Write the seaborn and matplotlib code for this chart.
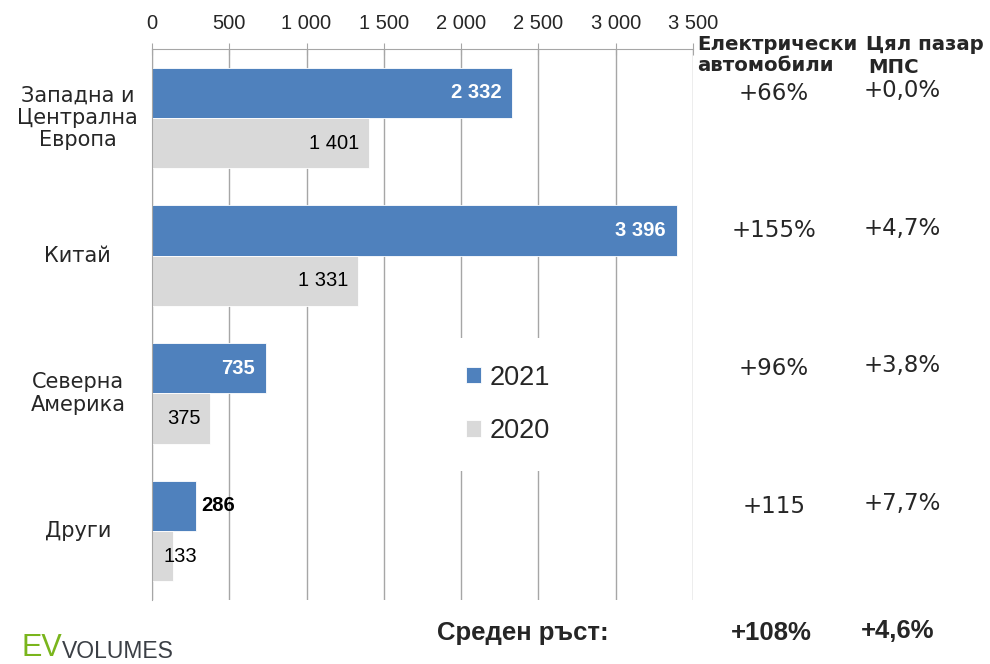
import pandas as pd
import matplotlib.pyplot as plt
import matplotlib.transforms as mtrans
from matplotlib.ticker import FuncFormatter
import seaborn as sns

sns.set_style("white")
plt.rcParams["font.family"] = ["DejaVu Sans"]

regions = ["Западна и\nЦентрална\nЕвропа", "Китай", "Северна\nАмерика", "Други"]
ev_2021 = [2332, 3396, 735, 286]
ev_2020 = [1401, 1331, 375, 133]
years = ["2021", "2020"]
ev_growth = ["+66%", "+155%", "+96%", "+115"]
market_growth = ["+0,0%", "+4,7%", "+3,8%", "+7,7%"]
avg_ev = "+108%"
avg_market = "+4,6%"

blue = "#4F81BD"
gray = "#D9D9D9"
line_gray = "#A6A6A6"
arial = "Liberation Sans"

df = pd.DataFrame({
    "region": regions * 2,
    "value": ev_2021 + ev_2020,
    "year": [years[0]] * 4 + [years[1]] * 4,
})

fig = plt.figure(figsize=(9.9, 6.64), dpi=100)
ax = fig.add_axes([0.1535, 0.0964, 0.5465, 0.8298])

sns.barplot(data=df, y="region", x="value", hue="year", hue_order=years,
            orient="h", palette=[blue, gray], saturation=1, width=0.73,
            edgecolor="white", linewidth=0.6, ax=ax)

ax.set_xlim(0, 3500)
ax.set_ylim(3.5, -0.5)
ax.set_xlabel("")
ax.set_ylabel("")
ax.xaxis.tick_top()
ax.set_xticks(range(0, 3501, 500))
ax.xaxis.set_major_formatter(FuncFormatter(lambda v, p: f"{int(v):,}".replace(",", " ")))
ax.tick_params(axis="x", direction="inout", length=9, color=line_gray, pad=7,
               labelsize=14.5)
for lab in ax.get_xticklabels():
    lab.set_fontfamily(arial)
ax.grid(axis="x", color=line_gray, lw=1)
ax.set_axisbelow(True)
for s in ["right", "bottom"]:
    ax.spines[s].set_visible(False)
for s in ["top", "left"]:
    ax.spines[s].set_color(line_gray)

ax.set_yticks(range(len(regions)))
ax.set_yticklabels([])
ax.tick_params(axis="y", which="major", length=0)
ax.set_yticks([i - 0.5 for i in range(len(regions) + 1)], minor=True)
ax.tick_params(axis="y", which="minor", length=6, color=line_gray, direction="out")

# category labels
ytrans = mtrans.blended_transform_factory(ax.transAxes, ax.transData)
for i, r in enumerate(regions):
    ax.text(-0.137, i, r, transform=ytrans, ha="center", va="center",
            multialignment="center", fontsize=15, linespacing=1.15)

# bar labels
for cont, vals, yr in zip(ax.containers, [ev_2021, ev_2020], years):
    for bar, v in zip(cont, vals):
        yc = bar.get_y() + bar.get_height() / 2
        txt = f"{v:,}".replace(",", " ")
        if yr == "2021":
            if v > 500:
                ax.annotate(txt, (v, yc), xytext=(-8, 0), textcoords="offset points",
                            ha="right", va="center", color="white", fontweight="bold",
                            fontsize=14.5, family=arial)
            else:
                ax.annotate(txt, (v, yc), xytext=(4, 0), textcoords="offset points",
                            ha="left", va="center", color="black", fontweight="bold",
                            fontsize=14.5, family=arial)
        else:
            if v > 200:
                ax.annotate(txt, (v, yc), xytext=(-7, 0), textcoords="offset points",
                            ha="right", va="center", color="black",
                            fontsize=14.5, family=arial)
            else:
                ax.annotate(txt, (0, yc), xytext=(8, 0), textcoords="offset points",
                            ha="left", va="center", color="black",
                            fontsize=14.5, family=arial)

# legend
handles, labels = ax.get_legend_handles_labels()
leg = ax.legend(handles, labels, loc="center", bbox_to_anchor=(0.658, 0.355),
                frameon=True, facecolor="white", edgecolor="none", framealpha=1,
                fancybox=False, handlelength=0.55, handleheight=0.55,
                handletextpad=0.3, labelspacing=1.0, borderpad=1.0,
                prop={"family": arial, "size": 19.5})

# right-hand growth columns
ftrans = mtrans.blended_transform_factory(fig.transFigure, ax.transData)
fig.text(697 / 990, 1 - 35 / 664, "Електрически\nавтомобили", ha="left", va="top",
         fontsize=14.2, fontweight="bold", linespacing=1.15)
fig.text(866 / 990, 1 - 35 / 664, "Цял пазар", ha="left", va="top",
         fontsize=14.2, fontweight="bold")
fig.text(868 / 990, 1 - 58 / 664, "МПС", ha="left", va="top",
         fontsize=14.2, fontweight="bold")
for i, (g1, g2) in enumerate(zip(ev_growth, market_growth)):
    ax.text(774 / 990, i - 0.18, g1, transform=ftrans, ha="center", va="center",
            fontsize=16.5)
    ax.text(902 / 990, i - 0.2, g2, transform=ftrans, ha="center", va="center",
            fontsize=16.5)

fig.text(437 / 990, 1 - 633 / 664, "Среден ръст:", ha="left", va="center",
         fontsize=18.5, fontweight="bold", family=arial)
fig.text(771 / 990, 1 - 633 / 664, avg_ev, ha="center", va="center",
         fontsize=18.5, fontweight="bold", family=arial)
fig.text(898 / 990, 1 - 631 / 664, avg_market, ha="center", va="center",
         fontsize=18.5, fontweight="bold", family=arial)

# logo
fig.text(21 / 990, 1 - 648 / 664, "EV", ha="left", va="center", fontsize=22,
         color="#7AB51D", family=arial)
fig.text(62 / 990, 1 - 651 / 664, "VOLUMES", ha="left", va="center", fontsize=16.5,
         color="#3B3F45", family=arial)

fig.savefig("out.png", dpi=100)
